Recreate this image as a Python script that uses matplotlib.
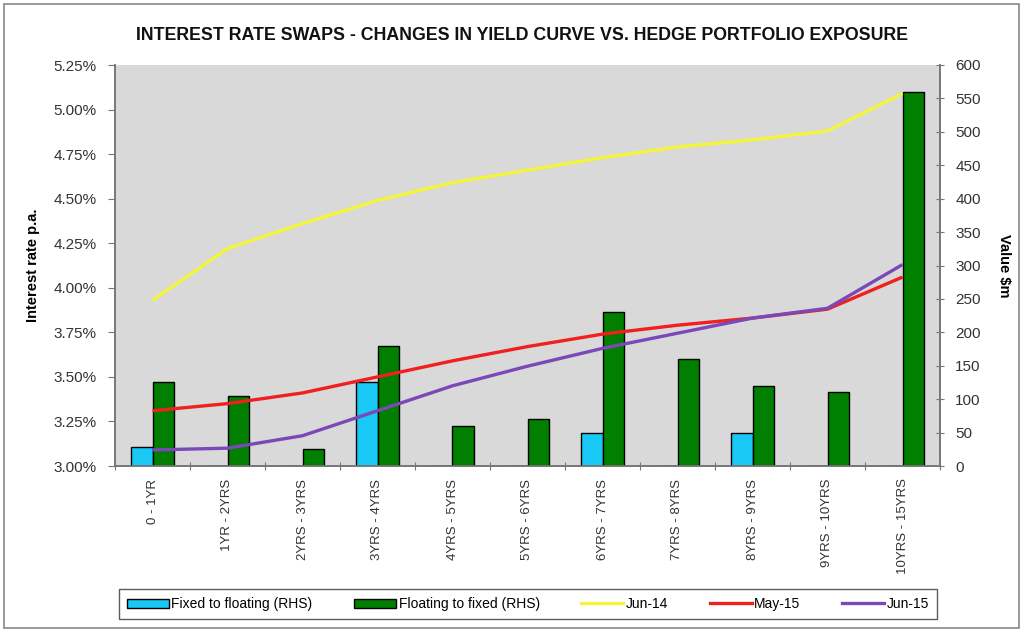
import matplotlib
matplotlib.use("Agg")
import matplotlib.pyplot as plt
import numpy as np
from matplotlib.patches import Patch, Rectangle
from matplotlib.lines import Line2D
from matplotlib.ticker import FuncFormatter, MultipleLocator

plt.rcParams['font.family'] = ['Liberation Sans', 'DejaVu Sans']

categories = ["0 - 1YR", "1YR - 2YRS", "2YRS - 3YRS", "3YRS - 4YRS", "4YRS - 5YRS",
              "5YRS - 6YRS", "6YRS - 7YRS", "7YRS - 8YRS", "8YRS - 9YRS",
              "9YRS - 10YRS", "10YRS - 15YRS"]
fixed_to_floating = [28, 0, 0, 125, 0, 0, 50, 0, 50, 0, 0]
floating_to_fixed = [125, 105, 25, 180, 60, 70, 230, 160, 120, 110, 560]
jun14 = [3.93, 4.22, 4.36, 4.49, 4.59, 4.66, 4.73, 4.79, 4.83, 4.88, 5.09]
may15 = [3.31, 3.35, 3.41, 3.50, 3.59, 3.67, 3.74, 3.79, 3.83, 3.88, 4.06]
jun15 = [3.09, 3.10, 3.17, 3.31, 3.45, 3.56, 3.66, 3.745, 3.83, 3.885, 4.13]

c_cyan = "#19C8F5"
c_green = "#007F00"
c_yellow = "#F4F43A"
c_red = "#F02020"
c_purple = "#7A48B8"

fig = plt.figure(figsize=(10.23, 6.31), dpi=100)
fig.patch.set_facecolor("white")
fig.add_artist(Rectangle((0.004, 0.004), 0.992, 0.99, transform=fig.transFigure,
                         fill=False, edgecolor="#888888", linewidth=1.2))

ax = fig.add_axes([115/1023, 1-466/631, 825/1023, 401/631])
ax.set_facecolor("#D9D9D9")
ax2 = ax.twinx()

x = np.arange(len(categories))
w = 0.29
ax2.bar(x - w/2, fixed_to_floating, width=w, color=c_cyan, edgecolor="black", linewidth=1.0, zorder=2)
ax2.bar(x + w/2, floating_to_fixed, width=w, color=c_green, edgecolor="black", linewidth=1.0, zorder=2)
ax2.set_ylim(0, 600)
ax2.yaxis.set_major_locator(MultipleLocator(50))

ax3 = ax.twinx()
ax3.set_ylim(3.0, 5.25)
ax3.axis("off")
ax3.plot(x, jun14, color=c_yellow, lw=2.4, solid_capstyle="butt")
ax3.plot(x, may15, color=c_red, lw=2.4, solid_capstyle="butt")
ax3.plot(x, jun15, color=c_purple, lw=2.4, solid_capstyle="butt")

ax.set_ylim(3.0, 5.25)
ax.yaxis.set_major_locator(MultipleLocator(0.25))
ax.yaxis.set_major_formatter(FuncFormatter(lambda v, p: f"{v:.2f}%"))
for a in (ax, ax2, ax3):
    a.set_xlim(-0.5, len(categories) - 0.5)

ax.set_xticks(np.arange(-0.5, len(categories), 1.0))
ax.set_xticklabels([])
ax.set_xticks(x, minor=True)
ax.set_xticklabels(categories, minor=True, rotation=90, fontsize=9.5, color="#333333")
ax.tick_params(axis="x", which="minor", length=0, pad=9)
ax.tick_params(axis="x", which="major", direction="inout", length=6, color="#777777")
ax.tick_params(axis="y", direction="out", length=5, color="#777777", labelsize=11,
               labelcolor="#333333", pad=8)
ax2.tick_params(axis="y", direction="inout", length=6, color="#777777", labelsize=11,
                labelcolor="#333333", pad=8)

for a in (ax, ax2, ax3):
    for s in a.spines.values():
        s.set_color("#777777")
        s.set_linewidth(1.2)
ax.spines["top"].set_visible(False)
ax2.spines["top"].set_visible(False)

ax.set_ylabel("Interest rate p.a.", fontsize=10.5, fontweight="bold", labelpad=10)
ax2.set_ylabel("Value $m", fontsize=10.5, fontweight="bold", rotation=-90, labelpad=22)

fig.text(522/1023, 1-35/631, "INTEREST RATE SWAPS - CHANGES IN YIELD CURVE VS. HEDGE PORTFOLIO EXPOSURE",
         ha="center", va="center", fontsize=12.8, fontweight="bold", color="#111111")

handles = [
    Patch(facecolor=c_cyan, edgecolor="black", label="Fixed to floating (RHS)"),
    Patch(facecolor=c_green, edgecolor="black", label="Floating to fixed (RHS)"),
    Line2D([0], [0], color=c_yellow, lw=2.4, label="Jun-14"),
    Line2D([0], [0], color=c_red, lw=2.4, label="May-15"),
    Line2D([0], [0], color=c_purple, lw=2.4, label="Jun-15"),
]
leg = fig.legend(handles=handles, loc="center", bbox_to_anchor=(528/1023, 1-604/631),
                 ncol=5, fontsize=10, frameon=True, fancybox=False, edgecolor="#333333",
                 handlelength=3.0, handleheight=0.6, columnspacing=3.0, handletextpad=0.2,
                 borderpad=0.6, borderaxespad=0)
leg.get_frame().set_linewidth(1.0)

fig.savefig("out.png", dpi=100)
